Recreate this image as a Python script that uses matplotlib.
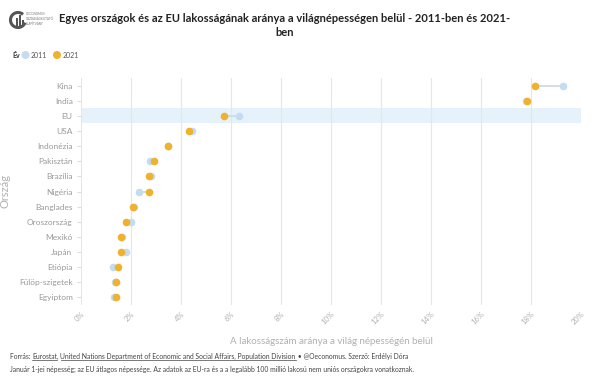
import matplotlib
matplotlib.use("Agg")
import matplotlib.pyplot as plt
import numpy as np

countries = ["Kína", "India", "EU", "USA", "Indonézia", "Pakisztán", "Brazília", "Nigéria",
             "Banglades", "Oroszország", "Mexikó", "Japán", "Etiópia", "Fülöp-szigetek", "Egyiptom"]
v2011 = [19.27, 17.78, 6.33, 4.45, 3.48, 2.77, 2.81, 2.31, 2.10, 2.00, 1.62, 1.81, 1.28, 1.37, 1.30]
v2021 = [18.15, 17.85, 5.71, 4.32, 3.49, 2.91, 2.71, 2.71, 2.09, 1.80, 1.60, 1.60, 1.49, 1.39, 1.39]
xticks = [0, 2, 4, 6, 8, 10, 12, 14, 16, 18, 20]
xticklabels = [f"{t}%" for t in xticks]

C2011 = "#c3dcf2"
C2021 = "#f0b12b"
GRAY = "#9a9a9a"
FONT = "Lato"
plt.rcParams['font.family'] = [FONT, 'DejaVu Sans']

W, H = 600, 384
fig = plt.figure(figsize=(6, 3.84), dpi=100)
ax = fig.add_axes([81 / W, 1 - 305 / H, 500 / W, (305 - 78) / H])

n = len(countries)
y = np.arange(n)
ax.set_ylim(n - 0.5, -0.5)
ax.set_xlim(0, 20)
ax.axhspan(2 - 0.5, 2 + 0.5, color="#e5f2fb", zorder=0, lw=0)
for xi, (a, b) in enumerate(zip(v2011, v2021)):
    ax.plot([a, b], [xi, xi], color="#c9d9e8", lw=1.2, zorder=1)
ax.scatter(v2011, y, s=30, color=C2011, zorder=2, lw=0)
ax.scatter(v2021, y, s=30, color=C2021, zorder=3, lw=0)

ax.set_xticks(xticks)
ax.set_xticklabels(xticklabels, rotation=45, ha="right", rotation_mode="anchor",
                   fontsize=5.5, color="#b0b0b0")
ax.set_yticks(y)
ax.set_yticklabels(countries, fontsize=6, color=GRAY)
ax.tick_params(axis="y", length=3, color="#dddddd", pad=3)
ax.tick_params(axis="x", length=0, pad=4)
ax.grid(axis="x", color="#e6e6e6", lw=0.8, zorder=0)
ax.set_axisbelow(True)
for s in ax.spines.values():
    s.set_visible(False)
ax.set_xlabel("A lakosságszám aránya a világ népességén belül", fontsize=7, color="#b0b0b0", labelpad=8)
ax.set_ylabel("Ország", fontsize=8, color="#b0b0b0", labelpad=6)

# Title
fig.text(285 / W, 1 - 18 / H, "Egyes országok és az EU lakosságának aránya a világnépességen belül - 2011-ben és 2021-",
         ha="center", va="center", fontsize=8, fontweight="bold", color="#222222")
fig.text(285 / W, 1 - 33 / H, "ben", ha="center", va="center", fontsize=8, fontweight="bold", color="#222222")

# Logo (simplified)
fig.text(26 / W, 1 - 19 / H, "OECONOMUS\nGAZDASÁGKUTATÓ\nALAPÍTVÁNY", ha="left", va="center",
         fontsize=2.2, color="#777777", linespacing=1.3)
fig.patches.append(matplotlib.patches.Arc((18 / W, 1 - 20 / H), 15 / W, 15 / H, theta1=60, theta2=330,
                                          transform=fig.transFigure, ec="#555555", lw=2.2))
for bx, bh in [(16, 8), (19, 11), (22, 6)]:
    fig.patches.append(matplotlib.patches.Rectangle((bx / W, 1 - 26 / H), 2 / W, bh / H,
                                                    transform=fig.transFigure, color="#555555", lw=0))

# Legend
fig.text(12 / W, 1 - 55 / H, "Év", ha="left", va="center", fontsize=5, fontweight="bold", color="#333333")
fig.patches.append(matplotlib.patches.Ellipse((25.5 / W, 1 - 55 / H), 8 / W, 8 / H, transform=fig.transFigure,
                                              color=C2011, lw=0))
fig.text(31 / W, 1 - 55 / H, "2011", ha="left", va="center", fontsize=5, color="#555555")
fig.patches.append(matplotlib.patches.Ellipse((57 / W, 1 - 55 / H), 8 / W, 8 / H, transform=fig.transFigure,
                                              color=C2021, lw=0))
fig.text(63 / W, 1 - 55 / H, "2021", ha="left", va="center", fontsize=5, color="#555555")

# Footer with underlined links
renderer = fig.canvas.get_renderer()
parts = [("Forrás: ", False), ("Eurostat", True), (", ", False),
         ("United Nations Department of Economic and Social Affairs, Population Division", True),
         (" • @Oeconomus. Szerző: Erdélyi Dóra", False)]
x = 10
fy = 1 - 359 / H
for txt, ul in parts:
    t = fig.text(x / W, fy, txt, ha="left", va="baseline", fontsize=4.9, color="#444444")
    bb = t.get_window_extent(renderer)
    if ul:
        fig.add_artist(matplotlib.lines.Line2D([bb.x0 / W, bb.x1 / W], [fy - 1.3 / H, fy - 1.3 / H],
                                               transform=fig.transFigure, color="#444444", lw=0.5))
    x = bb.x1
fig.text(10 / W, 1 - 372 / H,
         "Január 1-jei népesség; az EU átlagos népessége. Az adatok az EU-ra és a a legalább 100 millió lakosú nem uniós országokra vonatkoznak.",
         ha="left", va="baseline", fontsize=4.9, color="#444444")

fig.savefig("out.png", dpi=100)
